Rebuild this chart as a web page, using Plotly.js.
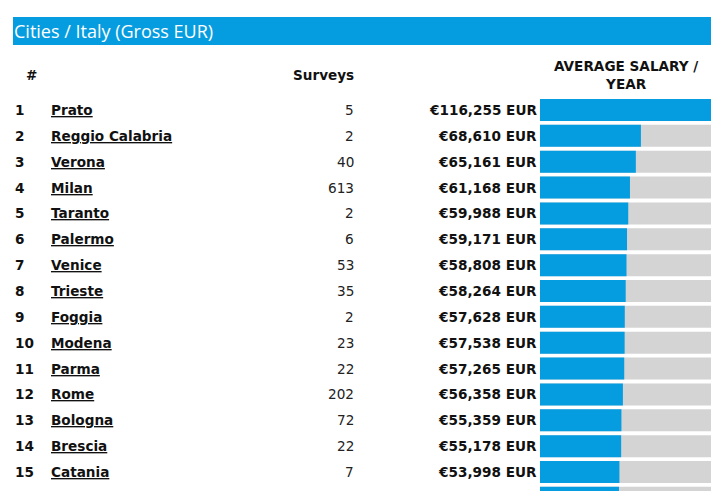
<!DOCTYPE html>
<html><head><meta charset="utf-8">
<script src="https://cdn.plot.ly/plotly-3.0.1.min.js"></script>
<style>html,body{margin:0;padding:0;background:#fff}</style>
</head><body><div id="chart" style="width:725px;height:500px"></div>
<script>
const ranks = [1,2,3,4,5,6,7,8,9,10,11,12,13,14,15];
const cities = ["Prato","Reggio Calabria","Verona","Milan","Taranto","Palermo","Venice","Trieste","Foggia","Modena","Parma","Rome","Bologna","Brescia","Catania"];
const surveys = [5,2,40,613,2,6,53,35,2,23,22,202,72,22,7];
const salaries = [116255,68610,65161,61168,59988,59171,58808,58264,57628,57538,57265,56358,55359,55178,53998];
// 16th row is only partly visible at the bottom edge (label hidden)
const partialRank = 16;
const partialSalary = 53700;

const titleText = "Cities / Italy (Gross EUR)";
const headRank = "#";
const headSurveys = "Surveys";
const headSalary = "AVERAGE SALARY /<br>YEAR";

const W = 725, H = 500;
const px = v => v / W;
const py = v => 1 - v / H;

const BLUE = "#069de0";
const GRAY = "#d4d4d4";
const maxSal = Math.max(...salaries);

const allRanks = ranks.concat([partialRank]);
const allSal = salaries.concat([partialSalary]);

const bgTrace = {
  type: "bar", orientation: "h",
  y: allRanks, x: allRanks.map(() => maxSal),
  marker: {color: GRAY, line: {width: 0}},
  hoverinfo: "skip", width: 0.85
};
const fgTrace = {
  type: "bar", orientation: "h",
  y: allRanks, x: allSal,
  marker: {color: BLUE, line: {width: 0}},
  hoverinfo: "skip", width: 0.85
};

const bodyFont = {family: "DejaVu Sans, Verdana, sans-serif", size: 13.6, color: "#111"};
const ann = [];
ranks.forEach((r, i) => {
  ann.push({xref: "paper", yref: "y", x: px(13), y: r, xanchor: "left", yanchor: "middle",
    text: "<b>" + r + "</b>", showarrow: false, font: bodyFont});
  ann.push({xref: "paper", yref: "y", x: px(49), y: r, xanchor: "left", yanchor: "middle",
    text: "<b><u>" + cities[i] + "</u></b>", showarrow: false, font: bodyFont});
  ann.push({xref: "paper", yref: "y", x: px(356), y: r, xanchor: "right", yanchor: "middle",
    text: String(surveys[i]), showarrow: false, font: Object.assign({}, bodyFont, {color: "#222"})});
  ann.push({xref: "paper", yref: "y", x: px(539), y: r, xanchor: "right", yanchor: "middle",
    text: "<b>€" + salaries[i].toLocaleString("en-US") + " EUR</b>", showarrow: false, font: bodyFont});
});
// headers
ann.push({xref: "paper", yref: "paper", x: px(31), y: py(75), xanchor: "center", yanchor: "middle",
  text: "<b>" + headRank + "</b>", showarrow: false, font: bodyFont});
ann.push({xref: "paper", yref: "paper", x: px(356), y: py(75), xanchor: "right", yanchor: "middle",
  text: "<b>" + headSurveys + "</b>", showarrow: false, font: bodyFont});
ann.push({xref: "paper", yref: "paper", x: px(626), y: py(75), xanchor: "center", yanchor: "middle",
  text: "<b>" + headSalary + "</b>", showarrow: false, font: bodyFont, align: "center"});
// title
ann.push({xref: "paper", yref: "paper", x: px(12), y: py(31), xanchor: "left", yanchor: "middle",
  text: titleText, showarrow: false,
  font: {family: "Open Sans, Noto Sans, sans-serif", size: 18, color: "#ffffff"}});

const rowPitch = (472 - 110) / 14;
const plotBottom = 491; // visible area of the bars ends here
const yTop = 1 - 110 / rowPitch;
const yBot = 1 + (plotBottom - 110) / rowPitch;

const layout = {
  width: W, height: H,
  margin: {l: 0, r: 0, t: 0, b: 0, pad: 0},
  paper_bgcolor: "#fff", plot_bgcolor: "rgba(0,0,0,0)",
  barmode: "overlay", showlegend: false,
  xaxis: {domain: [px(540), px(711)], range: [0, maxSal], visible: false, fixedrange: true},
  yaxis: {domain: [1 - plotBottom / H, 1], range: [yBot, yTop], visible: false, fixedrange: true},
  shapes: [{type: "rect", xref: "paper", yref: "paper", x0: px(13), x1: px(711), y0: py(17), y1: py(45),
    fillcolor: BLUE, line: {width: 0}, layer: "below"}],
  annotations: ann
};

Plotly.newPlot("chart", [bgTrace, fgTrace], layout, {displayModeBar: false, staticPlot: true});
</script></body></html>
